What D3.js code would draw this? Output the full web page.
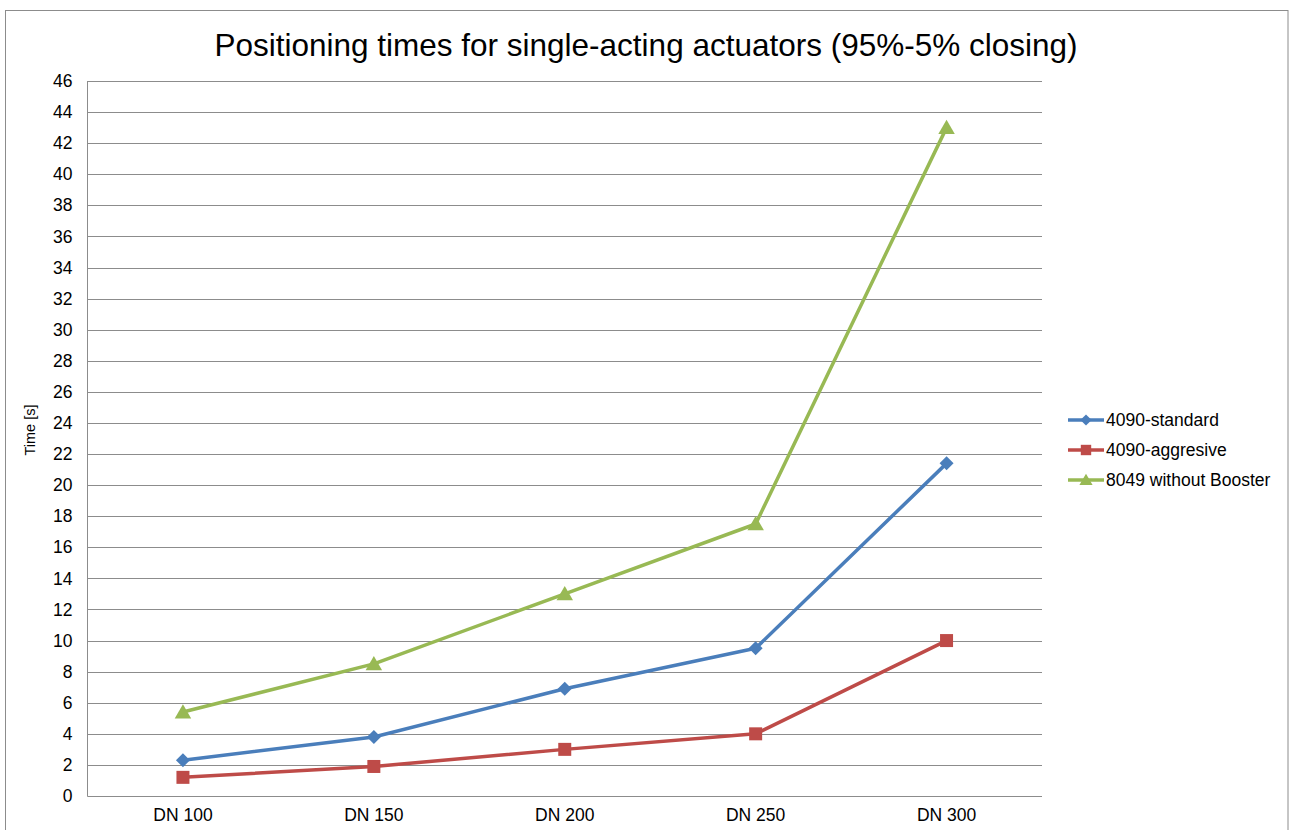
<!DOCTYPE html>
<html><head><meta charset="utf-8">
<script src="https://cdn.jsdelivr.net/npm/d3@7"></script>
<style>body{margin:0;background:#fff}svg{display:block}text{font-family:"Liberation Sans",Arial,sans-serif}</style>
</head><body>
<svg id="c" width="1290" height="830"></svg>
<script>
const categories = ["DN 100","DN 150","DN 200","DN 250","DN 300"];
const seriesNames = ["4090-standard","4090-aggresive","8049 without Booster"];
const standard = [2.3, 3.8, 6.9, 9.5, 21.4];
const aggresive = [1.2, 1.9, 3.0, 4.0, 10.0];
const noBooster = [5.4, 8.5, 13.0, 17.5, 43.0];
const yTicks = d3.range(0, 47, 2);
const colors = ["#4a7ebb","#be4b48","#98b954"];
const title = "Positioning times for single-acting actuators (95%-5% closing)";
const yTitle = "Time [s]";

const shapeFns = [
  r => `M0,${-r}L${r},0L0,${r}L${-r},0Z`,
  r => `M${-r},${-r}H${r}V${r}H${-r}Z`,
  r => `M0,${-r*1.05}L${r*1.1},${r*0.85}L${-r*1.1},${r*0.85}Z`
];
const markerR = [7, 6.5, 7.5];

const svg = d3.select("#c");
svg.append("rect").attr("x",5.5).attr("y",10.5).attr("width",1282.5).attr("height",840)
  .attr("fill","#fff").attr("stroke","#8c8c8c").attr("stroke-width",1);

const x = d3.scaleBand().domain(categories).range([87.5,1042]);
const y = d3.scaleLinear().domain([0,46]).range([796,81]);

svg.append("g").selectAll("line").data(yTicks).join("line")
  .attr("x1",87.5).attr("x2",1042).attr("y1",d=>Math.round(y(d))+0.5).attr("y2",d=>Math.round(y(d))+0.5)
  .attr("stroke","#8c8c8c").attr("stroke-width",1);
svg.append("line").attr("x1",87.5).attr("x2",87.5).attr("y1",81).attr("y2",796.5).attr("stroke","#8c8c8c");

const yAxis = d3.axisLeft(y).tickValues(yTicks).tickSize(0).tickPadding(15);
const ga = svg.append("g").attr("transform","translate(87.5,0)").call(yAxis);
ga.select(".domain").remove();
ga.selectAll("text").attr("font-size",17.5).attr("fill","#000").style("font-family","Liberation Sans, Arial, sans-serif");

const xAxis = d3.axisBottom(x).tickSize(0).tickPadding(13);
const gx = svg.append("g").attr("transform","translate(0,796)").call(xAxis);
gx.select(".domain").remove();
gx.selectAll("text").attr("font-size",17.5).attr("fill","#000").style("font-family","Liberation Sans, Arial, sans-serif");

svg.append("text").attr("x",646).attr("y",56).attr("text-anchor","middle").attr("font-size",31.5).attr("fill","#000").text(title);
svg.append("text").attr("transform","translate(35,430) rotate(-90)").attr("text-anchor","middle").attr("font-size",14.5).attr("fill","#000").text(yTitle);

const data = [standard, aggresive, noBooster];
const cx = c => x(c) + x.bandwidth()/2;
const line = d3.line().x((d,i)=>cx(categories[i])).y(d=>y(d));
data.forEach((vals,s)=>{
  svg.append("path").datum(vals).attr("d",line).attr("fill","none").attr("stroke",colors[s]).attr("stroke-width",3.5).attr("stroke-linejoin","round");
  svg.append("g").selectAll("path").data(vals).join("path")
    .attr("d", shapeFns[s](markerR[s]))
    .attr("transform",(d,i)=>`translate(${cx(categories[i])},${y(d)})`)
    .attr("fill",colors[s]);
});

const leg = svg.append("g");
seriesNames.forEach((n,s)=>{
  const yy = 420 + s*30;
  leg.append("line").attr("x1",1068).attr("x2",1104).attr("y1",yy).attr("y2",yy).attr("stroke",colors[s]).attr("stroke-width",3.5);
  leg.append("path").attr("d",shapeFns[s](markerR[s]*0.8)).attr("transform",`translate(1086,${yy})`).attr("fill",colors[s]);
  leg.append("text").attr("x",1106).attr("y",yy+6).attr("font-size",17.5).attr("fill","#000").text(n);
});
</script>
</body></html>
